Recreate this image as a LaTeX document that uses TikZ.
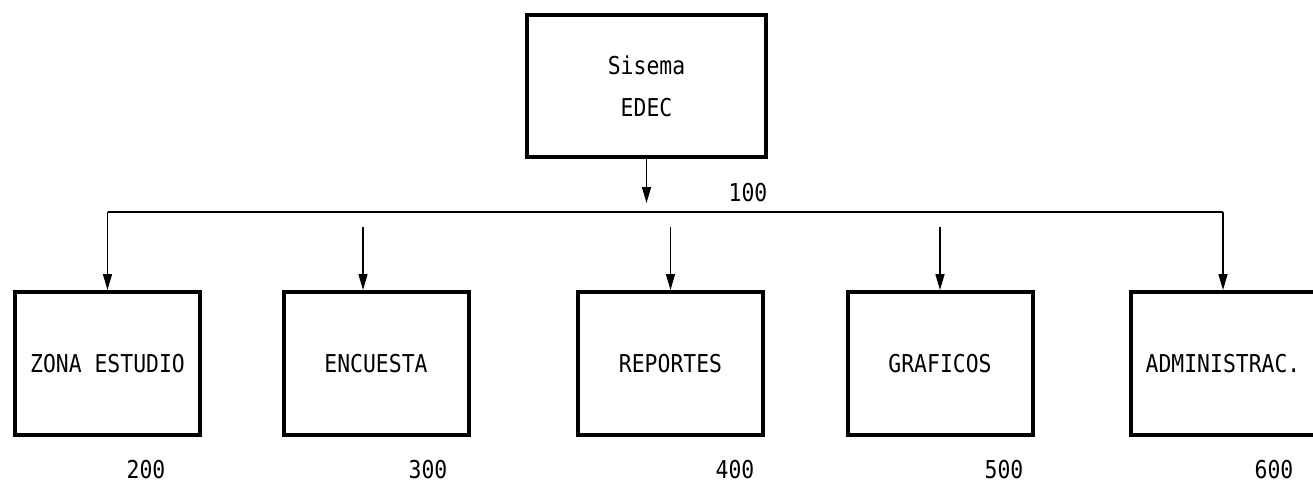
\documentclass[tikz,border=0pt]{standalone}
\usepackage{fontspec}
\setmonofont[FakeStretch=0.87]{DejaVu Sans Mono}
\usetikzlibrary{arrows.meta}

\begin{document}
\begin{tikzpicture}[x=0.5pt,y=-0.5pt,
  box/.style={draw=black, line width=2pt, minimum width=92.5pt, minimum height=71.5pt, inner sep=0pt, font=\ttfamily\fontsize{12.3}{16}\selectfont},
  num/.style={font=\ttfamily\fontsize{12.3}{16}\selectfont, inner sep=0pt},
  arr/.style={line width=0.75pt, -{Triangle[length=8pt,width=4.5pt]}}]
\useasboundingbox (0,0) rectangle (1313,483);
\node[box, minimum width=119.5pt, minimum height=71pt, align=center] (sis) at (646.5,86) {Sisema\\[5pt]EDEC};
\node[box] (zon) at (107.5,363.5) {ZONA ESTUDIO};
\node[box] (enc) at (376,363.5) {ENCUESTA};
\node[box] (rep) at (670.5,363.5) {REPORTES};
\node[box] (gra) at (940,363.5) {GRAFICOS};
\node[box] (adm) at (1223,363.5) {ADMINISTRAC.};
\node[num] (n100) at (748,193) {100};
\node[num] (n200) at (146,470) {200};
\node[num] (n300) at (428,470) {300};
\node[num] (n400) at (735,470) {400};
\node[num] (n500) at (1004,470) {500};
\node[num] (n600) at (1274,470) {600};
\coordinate (tip) at (0,203);
\coordinate (bus) at (0,212);
\coordinate (drop) at (0,227);
\draw[arr] (sis.south) -- (sis.south |- tip);
\draw[line width=0.75pt] (zon.north |- bus) -- (adm.north |- bus);
\draw[arr] (zon.north |- bus) -- (zon.north);
\draw[arr] ([xshift=-6.5pt]enc.north |- drop) -- ([xshift=-6.5pt]enc.north);
\draw[arr] (rep.north |- drop) -- (rep.north);
\draw[arr] (gra.north |- drop) -- (gra.north);
\draw[arr] (adm.north |- bus) -- (adm.north);
\end{tikzpicture}
\end{document}
